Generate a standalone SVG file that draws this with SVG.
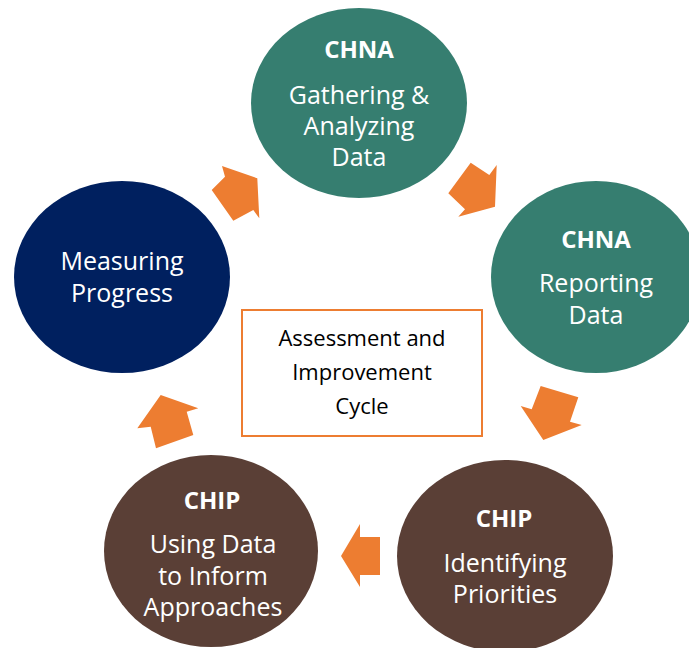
<svg xmlns="http://www.w3.org/2000/svg" width="689" height="648" viewBox="0 0 689 648">
<style>
.teal{fill:#367E70}
.navy{fill:#00205F}
.brown{fill:#5A3F36}
.t{font-family:"Open Sans","Liberation Sans",sans-serif;fill:#FFFFFF;text-anchor:middle;font-size:25px}
.b{font-weight:bold;font-size:24px}
.bx{font-family:"Open Sans","Liberation Sans",sans-serif;fill:#000000;text-anchor:middle;font-size:22px}
.arr{fill:#ED7D31}
</style>
<rect width="689" height="648" fill="#FFFFFF"/>
<g id="connectors">
<polygon class="arr" points="222,166 257.3,178.3 259.3,218.3 253.3,210 233.3,220.7 211.7,190 225,176.7"/>
<polygon class="arr" points="470.7,162.7 489.3,175 496.7,165 495,206.7 458.3,216.7 465,209.3 448.3,193.3"/>
<polygon class="arr" points="540.7,386 578.3,397.3 570,421.7 581.7,425 543.3,440 520.7,406 531.7,409.3"/>
<polygon class="arr" points="341,556 360,524 360,537 380,537 380,575 360,575 360,587"/>
<polygon class="arr" points="160.7,395 198.3,408.3 186.7,411.7 193.3,435 156,448.3 150.7,426.7 137.3,428.3"/>
</g>
<g id="node-gathering">
<ellipse class="teal" cx="359" cy="103" rx="108" ry="95"/>
<text class="t b" x="359" y="58">CHNA</text>
<text class="t" x="359" y="104">Gathering &amp;</text>
<text class="t" x="359" y="135">Analyzing</text>
<text class="t" x="359" y="166">Data</text>
</g>
<g id="node-reporting">
<ellipse class="teal" cx="596" cy="277" rx="105" ry="96"/>
<text class="t b" x="596" y="248">CHNA</text>
<text class="t" x="596" y="292">Reporting</text>
<text class="t" x="596" y="324">Data</text>
</g>
<g id="node-identifying">
<ellipse class="brown" cx="505" cy="556" rx="108" ry="96"/>
<text class="t b" x="504" y="527">CHIP</text>
<text class="t" x="505" y="572">Identifying</text>
<text class="t" x="505" y="603">Priorities</text>
</g>
<g id="node-using">
<ellipse class="brown" cx="211" cy="551" rx="107" ry="96"/>
<text class="t b" x="212" y="509">CHIP</text>
<text class="t" x="213" y="553">Using Data</text>
<text class="t" x="213" y="585">to Inform</text>
<text class="t" x="213" y="616">Approaches</text>
</g>
<g id="node-measuring">
<ellipse class="navy" cx="122" cy="277" rx="108" ry="96"/>
<text class="t" x="122" y="270">Measuring</text>
<text class="t" x="122" y="302">Progress</text>
</g>
<g id="node-cycle">
<rect x="242" y="310" width="240" height="126" fill="#FFFFFF" stroke="#ED7D31" stroke-width="2"/>
<text class="bx" x="362" y="346">Assessment and</text>
<text class="bx" x="362" y="380">Improvement</text>
<text class="bx" x="362" y="414">Cycle</text>
</g>
</svg>
